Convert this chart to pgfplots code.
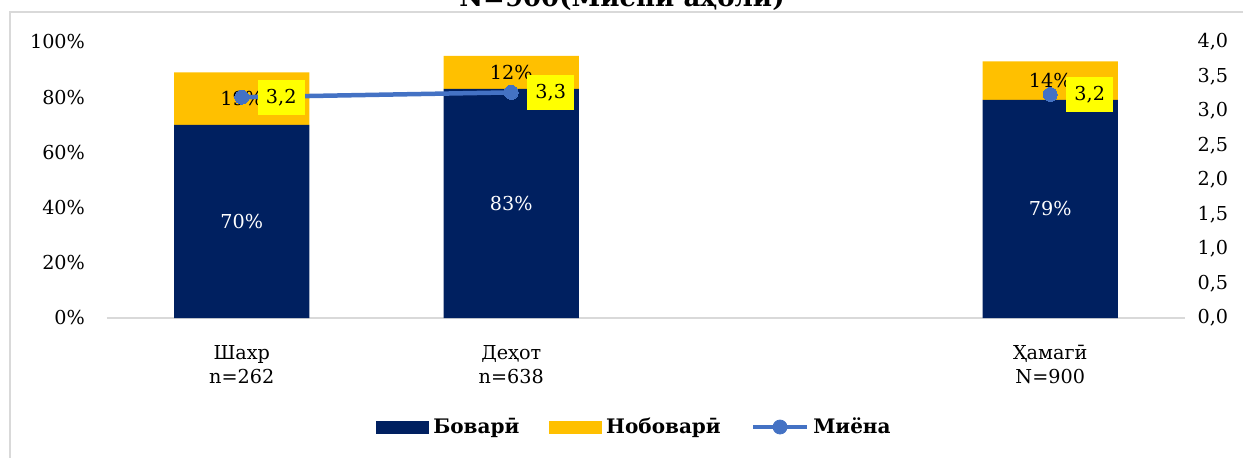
\documentclass[border=0pt]{standalone}
\usepackage{pgfplots}
\pgfplotsset{compat=1.18}
\usepackage{fontspec}
\setmainfont{DejaVu Serif}
\definecolor{navy}{HTML}{002060}
\definecolor{gold}{HTML}{FFC000}
\definecolor{lineblue}{HTML}{4472C4}
\definecolor{framegray}{HTML}{D9D9D9}
\definecolor{lblyellow}{HTML}{FFFF00}
\pgfplotsset{
  navyleg/.style={legend image code/.code={\fill[navy] (0pt,-3pt) rectangle (26pt,3pt);}},
  goldleg/.style={legend image code/.code={\fill[gold] (0pt,-3pt) rectangle (26pt,3pt);}},
  lineleg/.style={legend image code/.code={\draw[lineblue, line width=2.25pt] (0pt,0pt) -- (27pt,0pt); \fill[lineblue] (13.5pt,0pt) circle (3.5pt);}},
}
\newcommand{\lblfont}{\fontsize{9.6}{12}\selectfont}
\begin{document}
\begin{tikzpicture}[x=1pt,y=1pt]
\useasboundingbox (0,0) rectangle (621.5,228.5);
\draw[framegray, line width=0.75pt] (5,-20) rectangle (640,222.5);
\node[font=\bfseries\fontsize{13}{15}\selectfont, anchor=base] at (311,225.5) {N=900(Миёни аҳолӣ)};

\begin{axis}[
  at={(53.5pt,69.5pt)}, anchor=south west,
  scale only axis, width=539pt, height=138pt,
  xmin=-0.5, xmax=3.5, ymin=0, ymax=100,
  ybar stacked, bar width=67.5pt,
  xtick={0,1,3},
  xticklabels={{Шахр\\n=262},{Деҳот\\n=638},{Ҳамагӣ\\N=900}},
  xticklabel style={align=center, font=\lblfont, yshift=-10pt},
  ytick={0,20,...,100},
  yticklabel={\pgfmathprintnumber{\tick}\%},
  yticklabel style={font=\lblfont, xshift=-7.5pt},
  /pgf/number format/assume math mode=true,
  major tick length=0pt,
  axis x line*=bottom, axis y line*=left,
  x axis line style={draw=framegray, line width=0.75pt, -},
  y axis line style={draw=none},
  nodes near coords={\pgfmathprintnumber{\pgfplotspointmeta}\%},
  point meta=explicit,
  every node near coord/.append style={anchor=center, font=\lblfont},
]
\addplot[fill=navy, draw=none, every node near coord/.append style={text=white}]
  coordinates {(0,70) [70] (1,83) [83] (3,79) [79]};
\addplot[fill=gold, draw=none, every node near coord/.append style={text=black}]
  coordinates {(0,19) [19] (1,12) [12] (3,14) [14]};
\end{axis}

\begin{axis}[
  at={(53.5pt,69.5pt)}, anchor=south west,
  scale only axis, width=539pt, height=138pt,
  xmin=-0.5, xmax=3.5, ymin=0, ymax=4,
  axis x line=none,
  axis y line*=right,
  y axis line style={draw=none},
  major tick length=0pt,
  ytick={0,0.5,1,1.5,2,2.5,3,3.5,4},
  yticklabel style={/pgf/number format/.cd, fixed, fixed zerofill, precision=1, use comma, /tikz/.cd, font=\lblfont, xshift=2.8pt},
  /pgf/number format/assume math mode=true,
  legend style={at={(0.4903,-0.395)}, anchor=center, draw=none, fill=none,
    legend columns=3, font=\bfseries\fontsize{10}{12}\selectfont,
    /tikz/every even column/.append style={column sep=13pt}},
  boxlbl/.style={nodes near coords={\pgfmathprintnumber[fixed,fixed zerofill,precision=1,use comma]{\pgfplotspointmeta}},
    every node near coord/.append style={fill=lblyellow, text=black, draw=none, anchor=west, xshift=8pt,
      minimum width=23.5pt, minimum height=17.5pt, inner sep=0pt, font=\lblfont}},
]
\addlegendimage{navyleg}\addlegendentry{Боварӣ}
\addlegendimage{goldleg}\addlegendentry{Нобоварӣ}
\addlegendimage{lineleg}\addlegendentry{Миёна}
\addplot[lineblue, line width=2.25pt, mark=*, mark size=3.5pt, mark options={fill=lineblue, draw=lineblue, line width=0pt}, boxlbl]
  coordinates {(0,3.2) (1,3.27)};
\addplot[lineblue, line width=2.25pt, mark=*, mark size=3.5pt, mark options={fill=lineblue, draw=lineblue, line width=0pt}, boxlbl]
  coordinates {(3,3.24)};
\end{axis}
\end{tikzpicture}
\end{document}
